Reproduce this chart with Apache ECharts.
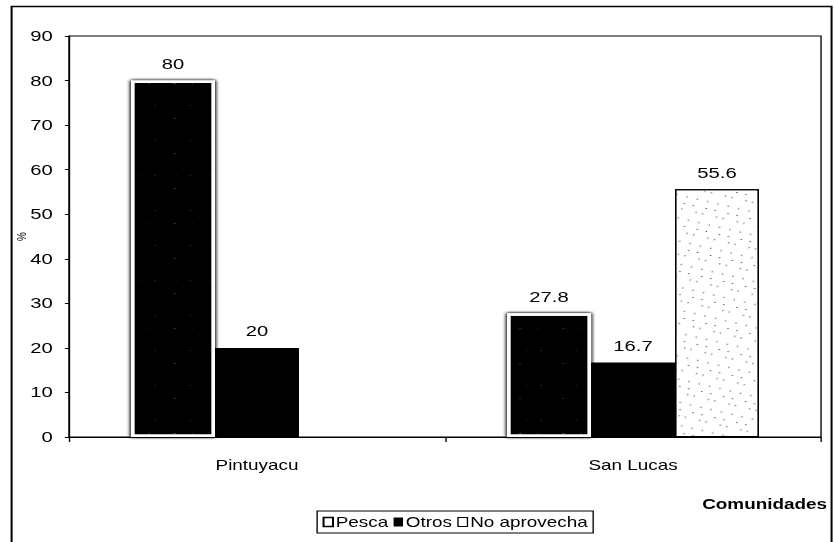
<!DOCTYPE html>
<html>
<head>
<meta charset="utf-8">
<script src="https://cdn.jsdelivr.net/npm/echarts@6/dist/echarts.min.js"></script>
<style>
  html, body { margin: 0; padding: 0; background: #fff; overflow: hidden; }
  #wrap { width: 834px; height: 542px; overflow: hidden; }
  /* the chart is laid out narrow and widened, giving the broad lettering of the original */
  #chart { width: 618px; height: 542px; transform: scaleX(1.3495); transform-origin: 0 0; }
</style>
</head>
<body>
<div id="wrap"><div id="chart"></div></div>
<script>
// Communities on the category axis
const comunidades = ['Pintuyacu', 'San Lucas'];
// Share (%) of each use, per community
const pesca = [80, 27.8];
const otros = [20, 16.7];
const noAprovecha = [null, 55.6];
// Value axis ticks
const yMin = 0, yMax = 90, yStep = 10;

const FONT = '"Liberation Sans", Arial, sans-serif';

const chart = echarts.init(document.getElementById('chart'), null, { renderer: 'svg' });

const labelStyle = {
  show: true,
  position: 'top',
  distance: 9,
  color: '#000',
  fontFamily: FONT,
  fontSize: 15
};

chart.setOption({
  animation: false,
  backgroundColor: '#fff',
  graphic: [{
    type: 'rect',
    shape: { x: 8.6, y: 6.5, width: 607.6, height: 545 },
    style: { fill: 'none', stroke: '#000', lineWidth: 1.5 },
    silent: true
  }],
  grid: {
    left: 51.1, right: 9.6, top: 36, bottom: 105,
    containLabel: false,
    outerBoundsMode: 'none',
    show: true, borderColor: '#000', borderWidth: 1, backgroundColor: 'transparent'
  },
  legend: {
    bottom: 9,
    left: 235,
    itemWidth: 7,
    itemHeight: 9,
    itemGap: 4,
    padding: [4, 4, 4, 4],
    borderColor: '#000',
    borderWidth: 1,
    textStyle: { color: '#000', fontFamily: FONT, fontSize: 14, padding: [0, 0, 0, -3] },
    data: [
      { name: 'Pesca', icon: 'rect', itemStyle: { color: '#fff', borderColor: '#000', borderWidth: 1.5, decal: 'none' } },
      { name: 'Otros', icon: 'rect', itemStyle: { color: '#000' } },
      { name: 'No aprovecha', icon: 'rect', itemStyle: { color: '#fff', borderColor: '#000', borderWidth: 1, decal: 'none' } }
    ]
  },
  xAxis: {
    type: 'category',
    data: comunidades,
    name: 'Comunidades',
    nameLocation: 'end',
    nameGap: 0,
    nameMoveOverlap: false,
    nameTextStyle: {
      color: '#000', fontFamily: FONT, fontWeight: 'bold', fontSize: 14,
      align: 'right', verticalAlign: 'top', padding: [60, -4.4, 0, 0]
    },
    axisLine: { lineStyle: { color: '#000', width: 1 } },
    axisTick: { show: true, length: 5, lineStyle: { color: '#000' } },
    axisLabel: { color: '#000', fontFamily: FONT, fontSize: 14, margin: 21 },
    splitLine: { show: false }
  },
  yAxis: {
    type: 'value',
    min: yMin, max: yMax, interval: yStep,
    name: '%',
    nameLocation: 'middle',
    nameGap: 30,
    nameMoveOverlap: false,
    nameRotate: 90,
    nameTextStyle: { color: '#000', fontFamily: FONT, fontSize: 10 },
    axisLine: { show: true, lineStyle: { color: '#000', width: 1 } },
    axisTick: { show: true, length: 3, lineStyle: { color: '#000' } },
    axisLabel: { color: '#000', fontFamily: FONT, fontSize: 15, margin: 12 },
    splitLine: { show: false }
  },
  series: [
    {
      name: 'Pesca',
      type: 'bar',
      data: pesca,
      barGap: '0%',
      barCategoryGap: '33%',
      label: labelStyle,
      itemStyle: {
        color: '#050505',
        borderColor: '#fff',
        borderWidth: 2.5,
        shadowColor: '#000',
        shadowBlur: 3,
        decal: {
          symbol: 'rect',
          symbolSize: 0.5,
          color: 'rgba(255,255,255,0.35)',
          dashArrayX: [[1, 9, 2, 14], [3, 11, 1, 17]],
          dashArrayY: [1, 12, 1, 21],
          rotation: 0
        }
      }
    },
    {
      name: 'Otros',
      type: 'bar',
      data: otros,
      label: labelStyle,
      itemStyle: { color: '#000' }
    },
    {
      name: 'No aprovecha',
      type: 'bar',
      data: noAprovecha,
      label: labelStyle,
      itemStyle: {
        color: '#fff',
        borderColor: '#000',
        borderWidth: 1,
        decal: {
          symbol: 'rect',
          symbolSize: 1,
          color: '#444',
          dashArrayX: [[1, 6, 1, 9], [1, 10, 1, 4], [1, 7]],
          dashArrayY: [1, 5, 1, 8, 1, 6],
          rotation: 0.3
        }
      }
    }
  ]
});
</script>
</body>
</html>
